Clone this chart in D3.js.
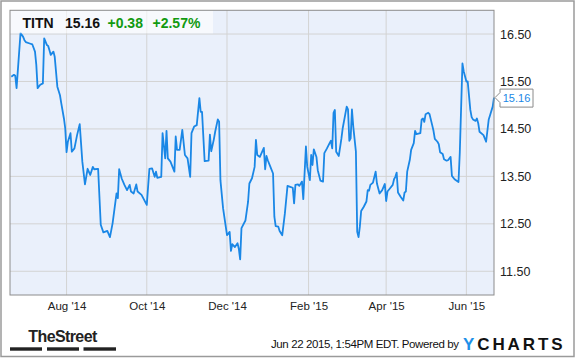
<!DOCTYPE html>
<html><head><meta charset="utf-8">
<script src="https://cdn.jsdelivr.net/npm/d3@7"></script>
<style>
html,body{margin:0;padding:0;background:#fff;}
svg{display:block;font-family:"Liberation Sans",Arial,sans-serif;}
</style></head>
<body><svg id="c" width="575" height="358"></svg>
<script>
const ticker = "TITN";
const lastPrice = "15.16";
const change = "+0.38";
const changePct = "+2.57%";
const dates = ["2014-06-20","2014-06-22","2014-06-23","2014-06-24","2014-06-27","2014-06-29","2014-06-30","2014-07-01","2014-07-04","2014-07-06","2014-07-08","2014-07-09","2014-07-10","2014-07-12","2014-07-14","2014-07-15","2014-07-17","2014-07-18","2014-07-19","2014-07-20","2014-07-22","2014-07-23","2014-07-25","2014-07-27","2014-07-28","2014-07-30","2014-07-31","2014-08-01","2014-08-02","2014-08-04","2014-08-05","2014-08-07","2014-08-09","2014-08-11","2014-08-13","2014-08-15","2014-08-17","2014-08-19","2014-08-21","2014-08-22","2014-08-25","2014-08-27","2014-08-29","2014-09-01","2014-09-03","2014-09-05","2014-09-08","2014-09-09","2014-09-10","2014-09-12","2014-09-14","2014-09-16","2014-09-18","2014-09-19","2014-09-21","2014-09-23","2014-09-24","2014-09-27","2014-10-01","2014-10-03","2014-10-05","2014-10-07","2014-10-08","2014-10-09","2014-10-12","2014-10-13","2014-10-15","2014-10-16","2014-10-17","2014-10-19","2014-10-22","2014-10-23","2014-10-24","2014-10-26","2014-10-28","2014-10-30","2014-11-01","2014-11-03","2014-11-04","2014-11-06","2014-11-08","2014-11-10","2014-11-11","2014-11-12","2014-11-14","2014-11-17","2014-11-18","2014-11-19","2014-11-21","2014-11-22","2014-11-24","2014-11-25","2014-11-26","2014-11-28","2014-12-01","2014-12-03","2014-12-04","2014-12-05","2014-12-07","2014-12-09","2014-12-10","2014-12-11","2014-12-12","2014-12-15","2014-12-17","2014-12-18","2014-12-20","2014-12-22","2014-12-23","2014-12-24","2014-12-26","2014-12-29","2014-12-30","2014-12-31","2015-01-01","2015-01-03","2015-01-05","2015-01-06","2015-01-07","2015-01-09","2015-01-10","2015-01-12","2015-01-14","2015-01-16","2015-01-18","2015-01-20","2015-01-21","2015-01-22","2015-01-24","2015-01-25","2015-01-27","2015-01-28","2015-01-30","2015-01-31","2015-02-02","2015-02-03","2015-02-04","2015-02-05","2015-02-07","2015-02-08","2015-02-10","2015-02-12","2015-02-13","2015-02-15","2015-02-17","2015-02-18","2015-02-19","2015-02-20","2015-02-21","2015-02-22","2015-02-24","2015-02-26","2015-02-27","2015-03-02","2015-03-03","2015-03-04","2015-03-05","2015-03-06","2015-03-07","2015-03-09","2015-03-10","2015-03-11","2015-03-12","2015-03-13","2015-03-15","2015-03-17","2015-03-18","2015-03-19","2015-03-20","2015-03-22","2015-03-24","2015-03-25","2015-03-27","2015-03-29","2015-03-31","2015-04-01","2015-04-02","2015-04-04","2015-04-06","2015-04-07","2015-04-08","2015-04-09","2015-04-10","2015-04-12","2015-04-14","2015-04-15","2015-04-16","2015-04-17","2015-04-19","2015-04-20","2015-04-22","2015-04-23","2015-04-24","2015-04-27","2015-04-28","2015-04-29","2015-04-30","2015-05-01","2015-05-03","2015-05-04","2015-05-06","2015-05-07","2015-05-08","2015-05-10","2015-05-11","2015-05-12","2015-05-14","2015-05-15","2015-05-17","2015-05-18","2015-05-20","2015-05-21","2015-05-23","2015-05-26","2015-05-27","2015-05-29","2015-05-30","2015-06-01","2015-06-02","2015-06-04","2015-06-05","2015-06-06","2015-06-08","2015-06-09","2015-06-10","2015-06-11","2015-06-14","2015-06-15","2015-06-16","2015-06-18","2015-06-19","2015-06-21","2015-06-22"];
const prices = [15.60,15.64,15.62,15.36,16.52,16.44,16.37,16.33,16.30,16.28,16.13,15.85,15.36,15.43,15.46,16.41,16.27,16.25,16.16,16.06,16.13,16.02,15.39,15.21,15.04,14.72,14.51,14.01,14.23,14.41,14.02,14.09,14.37,14.60,13.81,13.33,13.66,13.53,13.70,13.65,13.66,12.48,12.32,12.35,12.22,12.51,13.14,13.04,13.65,13.45,13.32,13.21,13.32,13.18,13.14,13.33,13.18,13.11,12.90,13.66,13.67,13.49,13.60,13.47,13.49,14.41,13.88,14.46,13.88,13.81,13.60,14.34,14.06,14.06,14.48,13.95,13.88,13.49,14.41,14.55,14.58,15.15,14.86,14.86,13.82,13.83,14.38,14.03,14.28,14.44,14.70,14.65,13.42,12.83,12.26,12.33,11.93,12.07,12.01,12.09,11.97,11.75,12.41,12.57,12.96,13.35,13.46,13.70,14.27,13.95,13.91,14.10,13.65,13.93,13.84,13.70,13.56,12.65,12.45,12.44,12.35,12.26,12.72,13.30,13.28,13.26,12.93,13.32,13.33,13.30,13.39,13.02,14.13,13.70,13.42,13.95,13.74,14.07,13.91,13.63,13.41,13.39,13.99,14.09,14.20,14.25,14.09,14.84,14.90,14.02,13.93,14.30,14.52,14.97,14.91,14.25,14.30,14.91,14.55,14.02,12.33,12.22,12.44,12.77,12.86,12.97,13.21,13.20,13.32,13.37,13.60,13.35,13.14,13.21,13.34,12.98,13.18,13.25,13.32,13.44,13.49,13.58,13.16,13.07,12.99,13.16,13.18,13.60,13.85,14.06,14.20,14.46,14.39,14.41,14.70,14.72,14.65,14.81,14.84,14.81,14.58,14.46,14.29,14.23,14.18,14.01,13.97,13.86,13.83,13.84,13.91,13.51,13.44,13.38,14.01,15.88,15.71,15.50,15.50,14.90,14.75,14.70,14.67,14.72,14.62,14.44,14.37,14.30,14.23,14.70,14.79,14.97,15.16];
const yTicks = [11.5,12.5,13.5,14.5,15.5,16.5];
const xTickDates = ["2014-08-01","2014-10-01","2014-12-01","2015-02-01","2015-04-01","2015-06-01"];
const xTickLabels = ["Aug '14","Oct '14","Dec '14","Feb '15","Apr '15","Jun '15"];
const footerStamp = "Jun 22 2015, 1:54PM EDT.  Powered by";

const parse = d3.utcParse("%Y-%m-%d");
const data = dates.map((d,i)=>({date:parse(d), v:prices[i]}));
const svg = d3.select("#c");
const L=10, R=494, T=10.3, B=295;
const x = d3.scaleUtc().domain([parse("2014-06-19"), parse("2015-06-22")]).range([L,R]);
const y = d3.scaleLinear().domain([11,17]).range([B,T]);

// outer frame
svg.append("rect").attr("x",1).attr("y",1).attr("width",573).attr("height",355.5)
  .attr("fill","#fff").attr("stroke","#9a9a9a").attr("stroke-width",1.5);

// plot background
svg.append("rect").attr("x",L).attr("y",T).attr("width",R-L).attr("height",B-T).attr("fill","#eaf0fb");

// grid
const g = svg.append("g");
g.selectAll(".hy").data(yTicks).join("line")
  .attr("x1",L).attr("x2",R).attr("y1",d=>y(d)).attr("y2",d=>y(d))
  .attr("stroke","#d3d3d3").attr("stroke-width",1);
g.selectAll(".vx").data(xTickDates).join("line")
  .attr("x1",d=>x(parse(d))).attr("x2",d=>x(parse(d))).attr("y1",T).attr("y2",B)
  .attr("stroke","#d3d3d3").attr("stroke-width",1);

// line
svg.append("path").datum(data)
  .attr("d", d3.line().x(d=>x(d.date)).y(d=>y(d.v)))
  .attr("fill","none").attr("stroke","#1a87e6").attr("stroke-width",1.8).attr("stroke-linejoin","round");

// header box
svg.append("rect").attr("x",L).attr("y",T).attr("width",203).attr("height",23)
  .attr("fill","#fff").attr("fill-opacity",0.6);
const hdr = svg.append("g").attr("font-size",14).attr("font-weight","bold");
hdr.append("text").attr("x",22.5).attr("y",28).attr("fill","#111").text(ticker);
hdr.append("text").attr("x",65).attr("y",28).attr("fill","#111").text(lastPrice);
hdr.append("text").attr("x",107.5).attr("y",28).attr("fill","#119a11").text(change);
hdr.append("text").attr("x",152.5).attr("y",28).attr("fill","#119a11").text(changePct);

// plot border
svg.append("rect").attr("x",L).attr("y",T).attr("width",R-L).attr("height",B-T)
  .attr("fill","none").attr("stroke","#8c8c8c").attr("stroke-width",1);

// y axis
const ya = svg.append("g").attr("transform",`translate(${R},0)`)
  .call(d3.axisRight(y).tickValues(yTicks).tickFormat(d3.format(".2f")).tickSize(0).tickPadding(6));
ya.select(".domain").remove();
ya.selectAll("text").attr("font-size",12.5).attr("fill","#222").attr("font-family","Liberation Sans, Arial, sans-serif");

// x axis
const xa = svg.append("g").attr("transform",`translate(0,${B})`)
  .call(d3.axisBottom(x).tickValues(xTickDates.map(parse)).tickFormat((d,i)=>xTickLabels[i]).tickSize(0).tickPadding(7));
xa.select(".domain").remove();
xa.selectAll("text").attr("font-size",11.5).attr("fill","#222").attr("font-family","Liberation Sans, Arial, sans-serif");

// last value label
const last = data[data.length-1];
const lx = x(last.date), ly = y(last.v);
svg.append("path")
  .attr("d",`M${lx+1},${ly} L${lx+6},${ly-5} L${lx+6},${ly-8.5} L${lx+39},${ly-8.5} L${lx+39},${ly+9.5} L${lx+6},${ly+9.5} L${lx+6},${ly+5} Z`)
  .attr("fill","#fff").attr("stroke","#8a8a8a").attr("stroke-width",1);
svg.append("text").attr("x",lx+22.5).attr("y",ly+4).attr("text-anchor","middle")
  .attr("font-size",11).attr("fill","#1a87e6").text(d3.format(".2f")(last.v));

// footer: TheStreet
svg.append("text").attr("x",62.5).attr("y",341.7).attr("text-anchor","middle")
  .attr("font-family","Liberation Sans Narrow, Liberation Sans, Arial, sans-serif")
  .attr("font-weight","bold").attr("font-size",16).attr("letter-spacing",-0.6).attr("fill","#222").text("TheStreet");
[[10,42],[47,79],[83.5,116]].forEach(s=>{
  svg.append("rect").attr("x",s[0]).attr("y",347.3).attr("width",s[1]-s[0]).attr("height",3.4).attr("fill","#222");
});

// footer stamp
svg.append("text").attr("x",271).attr("y",348.3).attr("font-size",11.5).attr("fill","#111")
  .attr("textLength",188).text(footerStamp);
const yc = svg.append("text").attr("x",463).attr("y",350).attr("font-size",17).attr("font-weight","bold")
  .attr("letter-spacing",2.9).attr("fill","#111");
yc.append("tspan").attr("fill","#1e90e8").text("Y");
yc.append("tspan").text("CHARTS");
</script></body></html>
